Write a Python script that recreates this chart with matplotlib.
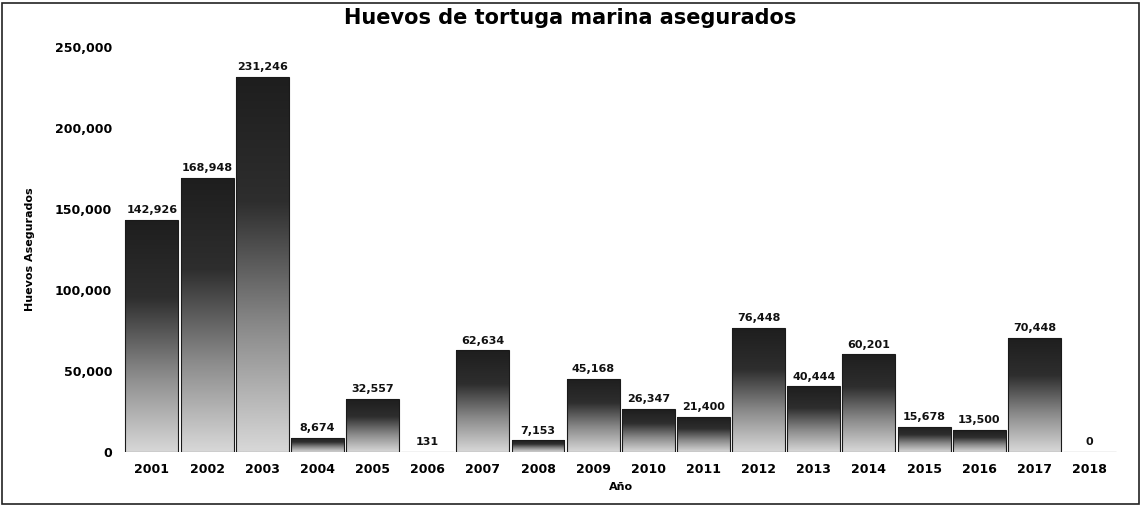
import matplotlib.pyplot as plt
import numpy as np
from matplotlib.colors import LinearSegmentedColormap

# datos
years = ['2001', '2002', '2003', '2004', '2005', '2006', '2007', '2008', '2009',
         '2010', '2011', '2012', '2013', '2014', '2015', '2016', '2017', '2018']
eggs = [142926, 168948, 231246, 8674, 32557, 131, 62634, 7153, 45168,
        26347, 21400, 76448, 40444, 60201, 15678, 13500, 70448, 0]

fig = plt.figure(figsize=(11.41, 5.09), dpi=100)
ax = fig.add_axes([0.108, 0.112, 0.872, 0.796])

x = np.arange(len(years))
bars = ax.bar(x, eggs, width=0.96, color='none', edgecolor='#1a1a1a', linewidth=0.8, zorder=3)

# degradado oscuro arriba, claro abajo
cmap = LinearSegmentedColormap.from_list('g', ['#d8d8d8', '#8a8a8a', '#2e2e2e', '#1e1e1e'])
grad = np.linspace(0, 1, 256).reshape(-1, 1)
for b in bars:
    h = b.get_height()
    if h <= 0:
        continue
    im = ax.imshow(grad, cmap=cmap, origin='lower', aspect='auto',
                   extent=(b.get_x(), b.get_x() + b.get_width(), 0, h), zorder=2)
    im.set_clip_path(b)

for xi, v in zip(x, eggs):
    ax.text(xi, v + 3000, f'{v:,}', ha='center', va='bottom',
            fontsize=8, fontweight='bold', color='#111111')

ax.set_xlim(-0.52, len(years) - 0.48)
ax.set_ylim(0, 250000)
ax.set_xticks(x)
ax.set_xticklabels(years, fontsize=9, fontweight='bold')
ax.set_yticks([0, 50000, 100000, 150000, 200000, 250000])
ax.set_yticklabels(['0', '50,000', '100,000', '150,000', '200,000', '250,000'],
                   fontsize=9, fontweight='bold')
ax.tick_params(length=0, pad=8)
for s in ax.spines.values():
    s.set_visible(False)

ax.set_xlabel('Año', fontsize=8, fontweight='bold', labelpad=4)
ax.set_ylabel('Huevos Asegurados', fontsize=8, fontweight='bold', labelpad=14)
fig.suptitle('Huevos de tortuga marina asegurados', fontsize=15, fontweight='bold', y=0.985)

# marco exterior
fig.patches.append(plt.Rectangle((0.002, 0.01), 0.996, 0.985, transform=fig.transFigure,
                                 fill=False, edgecolor='#222222', linewidth=1.2))

plt.savefig('out.png', dpi=100)
